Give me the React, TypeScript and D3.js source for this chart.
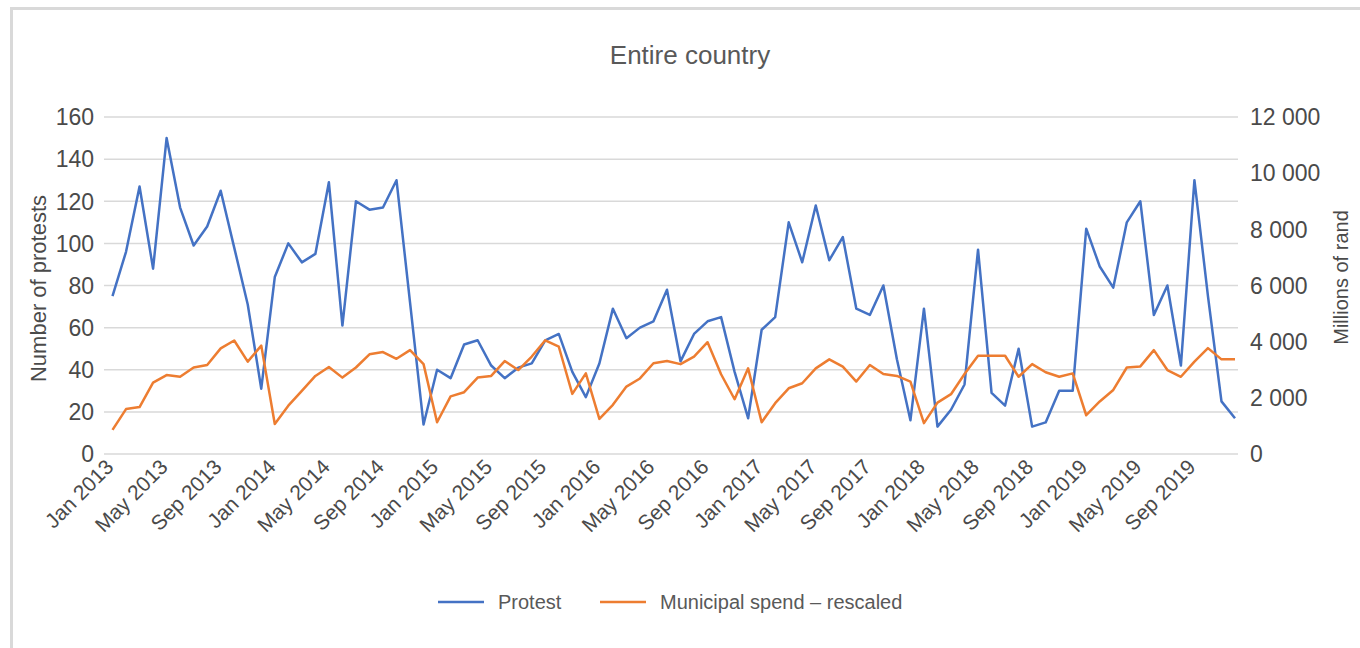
import * as d3 from 'd3';
import React, {useEffect, useRef} from 'react';

// monthly, Jan 2013 .. Dec 2019
const years = [2013, 2014, 2015, 2016, 2017, 2018, 2019];
const monthNames = ["Jan", "Feb", "Mar", "Apr", "May", "Jun", "Jul", "Aug", "Sep", "Oct", "Nov", "Dec"];

const protests = [
    75, 96, 127, 88, 150, 117, 99, 108, 125, 98, 71, 31,
    84, 100, 91, 95, 129, 61, 120, 116, 117, 130, 72, 14,
    40, 36, 52, 54, 42, 36, 41, 43, 54, 57, 39, 27,
    43, 69, 55, 60, 63, 78, 44, 57, 63, 65, 39, 17,
    59, 65, 110, 91, 118, 92, 103, 69, 66, 80, 45, 16,
    69, 13, 21, 33, 97, 29, 23, 50, 13, 15, 30, 30,
    107, 89, 79, 110, 120, 66, 80, 42, 130, 75, 25, 17
];

// millions of rand (right axis)
const municipalSpend = [
    860, 1600, 1670, 2540, 2810, 2750, 3080, 3170, 3760, 4040, 3290, 3860,
    1070, 1720, 2250, 2780, 3100, 2720, 3080, 3550, 3630, 3390, 3700, 3200,
    1130, 2050, 2200, 2720, 2780, 3310, 2990, 3470, 4050, 3820, 2140, 2870,
    1250, 1750, 2400, 2690, 3230, 3310, 3200, 3470, 3980, 2840, 1950, 3050,
    1130, 1810, 2340, 2520, 3050, 3370, 3110, 2580, 3170, 2850, 2780, 2580,
    1100, 1830, 2130, 2850, 3500, 3500, 3500, 2750, 3200, 2910, 2750, 2870,
    1380, 1870, 2280, 3080, 3120, 3700, 2990, 2750, 3290, 3770, 3370, 3370
];

const leftTicks = [0, 20, 40, 60, 80, 100, 120, 140, 160];
const rightTicks = [0, 2000, 4000, 6000, 8000, 10000, 12000];

const seriesNames = ["Protest", "Municipal spend – rescaled"];
const seriesColors = ["#4472C4", "#ED7D31"];

const months = years.flatMap((y) => monthNames.map((m) => `${m} ${y}`));

const W = 1360, H = 648;
const FONT = "'Liberation Sans', Arial, sans-serif";
const TEXT = "#4a4a4a";

export default function App() {
    const ref = useRef<SVGSVGElement>(null);

    useEffect(() => {
        const svg = d3.select(ref.current);
        svg.selectAll("*").remove();

        // chart frame, runs off the right/bottom edge like the original
        svg.append("rect")
            .attr("x", 11.5).attr("y", 8.5)
            .attr("width", W + 20).attr("height", H + 20)
            .attr("fill", "#fff")
            .attr("stroke", "#d9d9d9")
            .attr("stroke-width", 3);

        const plot = {l: 104, r: 1238, t: 117, b: 454};

        const x = d3.scalePoint<string>().domain(months).range([112.5, 1235]);
        const yL = d3.scaleLinear().domain([0, 160]).range([plot.b, plot.t]);
        const yR = d3.scaleLinear().domain([0, 12000]).range([plot.b, plot.t]);

        // gridlines
        svg.append("g").selectAll("line")
            .data(leftTicks)
            .enter().append("line")
            .attr("x1", plot.l).attr("x2", plot.r)
            .attr("y1", (d) => yL(d)).attr("y2", (d) => yL(d))
            .attr("stroke", "#d9d9d9")
            .attr("stroke-width", 1.5);

        // left ticks
        svg.append("g").selectAll("text")
            .data(leftTicks)
            .enter().append("text")
            .attr("x", 94)
            .attr("y", (d) => yL(d))
            .attr("dy", "0.36em")
            .attr("text-anchor", "end")
            .text((d) => d)
            .style("font-family", FONT)
            .style("font-size", "23px")
            .attr("fill", TEXT);

        // right ticks, space as thousands separator
        const fmt = (v: number) => d3.format(",")(v).replace(/,/g, " ");
        svg.append("g").selectAll("text")
            .data(rightTicks)
            .enter().append("text")
            .attr("x", 1250)
            .attr("y", (d) => yR(d))
            .attr("dy", "0.36em")
            .attr("text-anchor", "start")
            .text(fmt)
            .style("font-family", FONT)
            .style("font-size", "23px")
            .attr("fill", TEXT);

        // x labels every 4 months, rotated
        const xLabels = months.filter((m, i) => i % 4 === 0);
        svg.append("g").selectAll("text")
            .data(xLabels)
            .enter().append("text")
            .attr("transform", (d) => `translate(${x(d)! - 3}, 463) rotate(-45)`)
            .attr("text-anchor", "end")
            .attr("dy", "0.36em")
            .text((d) => d)
            .style("font-family", FONT)
            .style("font-size", "21px")
            .attr("fill", TEXT);

        // axis titles
        svg.append("text")
            .attr("transform", `translate(38, ${(plot.t + plot.b) / 2 + 3}) rotate(-90)`)
            .attr("text-anchor", "middle")
            .attr("dy", "0.36em")
            .text("Number of protests")
            .style("font-family", FONT)
            .style("font-size", "22px")
            .attr("fill", TEXT);

        svg.append("text")
            .attr("transform", `translate(1341, ${(plot.t + plot.b) / 2 - 8}) rotate(-90)`)
            .attr("text-anchor", "middle")
            .attr("dy", "0.36em")
            .text("Millions of rand")
            .style("font-family", FONT)
            .style("font-size", "20px")
            .attr("fill", TEXT);

        // title
        svg.append("text")
            .attr("x", 690).attr("y", 64)
            .attr("text-anchor", "middle")
            .text("Entire country")
            .style("font-family", FONT)
            .style("font-size", "26px")
            .attr("fill", "#595959");

        // lines
        const lineL = d3.line<number>().x((d, i) => x(months[i])!).y((d) => yL(d));
        const lineR = d3.line<number>().x((d, i) => x(months[i])!).y((d) => yR(d));

        svg.append("path")
            .datum(protests)
            .attr("d", lineL)
            .attr("fill", "none")
            .attr("stroke", seriesColors[0])
            .attr("stroke-width", 2.5)
            .attr("stroke-linejoin", "round");

        svg.append("path")
            .datum(municipalSpend)
            .attr("d", lineR)
            .attr("fill", "none")
            .attr("stroke", seriesColors[1])
            .attr("stroke-width", 2.5)
            .attr("stroke-linejoin", "round");

        // legend
        const legendX = [438, 600];
        const legend = svg.append("g").attr("class", "legend");
        seriesNames.forEach((name, i) => {
            legend.append("line")
                .attr("x1", legendX[i]).attr("x2", legendX[i] + 46)
                .attr("y1", 602).attr("y2", 602)
                .attr("stroke", seriesColors[i])
                .attr("stroke-width", 2.5);
            legend.append("text")
                .attr("x", legendX[i] + 60).attr("y", 602)
                .attr("dy", "0.36em")
                .text(name)
                .style("font-family", FONT)
                .style("font-size", "20px")
                .attr("fill", "#595959");
        });
    }, []);

    return (
        <svg ref={ref} width={W} height={H}
             style={{position: "absolute", left: 0, top: 0, background: "#fff"}} />
    );
}
